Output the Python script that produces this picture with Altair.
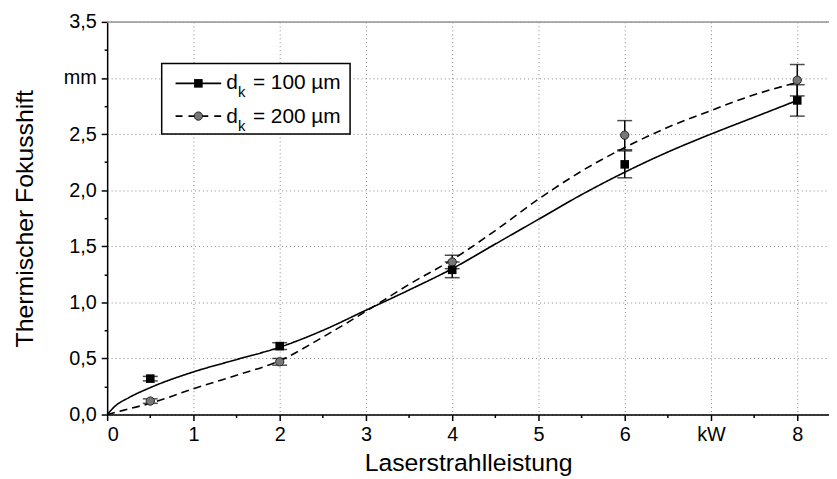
import altair as alt
import pandas as pd

# ---- data ----
x_pts = [0.5, 2, 4, 6, 8]
y100 = [0.32, 0.61, 1.29, 2.23, 2.80]
e100 = [0.02, 0.03, 0.07, 0.12, 0.14]
y200 = [0.12, 0.47, 1.36, 2.49, 2.98]
e200 = [0.02, 0.03, 0.06, 0.13, 0.14]

fit_x = [0, 0.1, 0.25, 0.5, 1, 1.5, 2, 2.5, 3, 3.5, 4, 4.5, 5, 5.5, 6, 6.5, 7, 7.5, 8]
fit100 = [0, 0.08, 0.15, 0.24, 0.38, 0.49, 0.60, 0.75, 0.93, 1.11, 1.30, 1.52, 1.74, 1.96, 2.16, 2.34, 2.50, 2.65, 2.80]
fit200 = [0, 0.02, 0.05, 0.10, 0.23, 0.35, 0.48, 0.69, 0.92, 1.16, 1.38, 1.64, 1.92, 2.17, 2.38, 2.56, 2.71, 2.85, 2.96]

x_major = [0, 1, 2, 3, 4, 5, 6, 7, 8]
x_minor = [0.5, 1.5, 2.5, 3.5, 4.5, 5.5, 6.5, 7.5]
y_major = [0, 0.5, 1.0, 1.5, 2.0, 2.5, 3.0, 3.5]
y_minor = [0.25, 0.75, 1.25, 1.75, 2.25, 2.75, 3.25]

FONT = "Liberation Sans"
W, H = 728, 396
XMAX = 8.368

pts = pd.DataFrame({
    "x": x_pts * 2,
    "y": y100 + y200,
    "lo": [v - e for v, e in zip(y100, e100)] + [v - e for v, e in zip(y200, e200)],
    "hi": [v + e for v, e in zip(y100, e100)] + [v + e for v, e in zip(y200, e200)],
    "s": ["100"] * 5 + ["200"] * 5,
})
fit = pd.DataFrame({
    "x": fit_x * 2,
    "y": fit100 + fit200,
    "s": ["100"] * len(fit_x) + ["200"] * len(fit_x),
})

xs = alt.Scale(domain=[0, XMAX], nice=False, zero=False)
ys = alt.Scale(domain=[0, 3.5], nice=False, zero=False)

x_axis = alt.Axis(values=x_major, tickSize=6, tickWidth=1.5, tickColor="black",
                  domainColor="black", domainWidth=1.5,
                  labelFontSize=20, labelFont=FONT, labelColor="black", labelPadding=4,
                  labelExpr="datum.value == 7 ? 'kW' : datum.label",
                  title="Laserstrahlleistung", titleFont=FONT, titleFontSize=25,
                  titleFontWeight="normal", titleColor="black", titlePadding=6,
                  grid=True, gridDash=[1, 3], gridColor="#888", gridWidth=1, orient="bottom")
y_axis = alt.Axis(values=y_major, tickSize=6, tickWidth=1.5, tickColor="black",
                  domainColor="black", domainWidth=1.5,
                  labelFontSize=20, labelFont=FONT, labelColor="black", labelPadding=5,
                  labelExpr="datum.value == 3 ? 'mm' : replace(format(datum.value, '.1f'), '.', ',')",
                  title="Thermischer Fokusshift", titleFont=FONT, titleFontSize=25,
                  titleFontWeight="normal", titleColor="black", titlePadding=26,
                  grid=True, gridDash=[1, 3], gridColor="#888", gridWidth=1, orient="left")

color = alt.Color("s:N", scale=alt.Scale(domain=["100", "200"], range=["black", "black"]), legend=None)
dash = alt.StrokeDash("s:N", scale=alt.Scale(domain=["100", "200"], range=[[1, 0], [8, 5]]), legend=None)

curves = alt.Chart(fit).mark_line(interpolate="monotone", strokeWidth=1.6).encode(
    x=alt.X("x:Q", scale=xs, axis=x_axis),
    y=alt.Y("y:Q", scale=ys, axis=y_axis),
    detail="s:N", color=color, strokeDash=dash,
)

minor = alt.Chart(pd.DataFrame({"x": [0.0], "y": [0.0]})).mark_point(opacity=0).encode(
    x=alt.X("x:Q", scale=xs, axis=alt.Axis(values=x_minor, tickSize=3, tickWidth=1.5, tickColor="black",
                                           labels=False, domain=False, grid=False, title=None, orient="bottom")),
    y=alt.Y("y:Q", scale=ys, axis=alt.Axis(values=y_minor, tickSize=3, tickWidth=1.5, tickColor="black",
                                           labels=False, domain=False, grid=False, title=None, orient="left")),
)

err = alt.Chart(pts).mark_rule(color="black", strokeWidth=1.5).encode(
    x=alt.X("x:Q", scale=xs, axis=None),
    y=alt.Y("lo:Q", scale=ys, axis=None),
    y2="hi:Q",
)
cap_lo = alt.Chart(pts).mark_tick(orient="horizontal", size=15, thickness=1.5, color="black").encode(
    x=alt.X("x:Q", scale=xs, axis=None), y=alt.Y("lo:Q", scale=ys, axis=None))
cap_hi = alt.Chart(pts).mark_tick(orient="horizontal", size=15, thickness=1.5, color="black").encode(
    x=alt.X("x:Q", scale=xs, axis=None), y=alt.Y("hi:Q", scale=ys, axis=None))

sq = alt.Chart(pts[pts.s == "100"]).mark_point(shape="square", filled=True, size=75, color="black", opacity=1).encode(
    x=alt.X("x:Q", scale=xs, axis=None), y=alt.Y("y:Q", scale=ys, axis=None))
ci = alt.Chart(pts[pts.s == "200"]).mark_point(shape="circle", filled=True, size=70, fill="#777", stroke="#222",
                                               strokeWidth=1, opacity=1).encode(
    x=alt.X("x:Q", scale=xs, axis=None), y=alt.Y("y:Q", scale=ys, axis=None))

top = alt.Chart(pd.DataFrame({"a": [0]})).mark_rule(color="#999", strokeWidth=1.5).encode(
    x=alt.value(0), x2=alt.value(W), y=alt.value(0))

one = pd.DataFrame({"a": [0]})
leg_box = alt.Chart(one).mark_rect(fill="white", stroke="black", strokeWidth=1.5).encode(
    x=alt.value(55), x2=alt.value(245), y=alt.value(42), y2=alt.value(113))
leg_l1 = alt.Chart(one).mark_rule(color="black", strokeWidth=1.6).encode(
    x=alt.value(69), x2=alt.value(115), y=alt.value(62))
leg_l2 = alt.Chart(one).mark_rule(color="black", strokeWidth=1.6, strokeDash=[7, 6]).encode(
    x=alt.value(69), x2=alt.value(115), y=alt.value(95))
leg_m1 = alt.Chart(one).mark_point(shape="square", filled=True, size=75, color="black", opacity=1).encode(
    x=alt.value(92), y=alt.value(62))
leg_m2 = alt.Chart(one).mark_point(shape="circle", filled=True, size=70, fill="#777", stroke="#222",
                                   strokeWidth=1, opacity=1).encode(x=alt.value(92), y=alt.value(95))


def txt(s, x, y, size):
    return alt.Chart(one).mark_text(text=s, align="left", baseline="alphabetic", font=FONT,
                                    fontSize=size, color="black").encode(x=alt.value(x), y=alt.value(y))


leg_txt = [
    txt("d", 120, 68, 21), txt("k", 132, 76, 15), txt("= 100 µm", 147, 68, 21),
    txt("d", 120, 102, 21), txt("k", 132, 110, 15), txt("= 200 µm", 147, 102, 21),
]

chart = alt.layer(
    curves, minor, top, err, cap_lo, cap_hi, ci, sq,
    leg_box, leg_l1, leg_l2, leg_m1, leg_m2, *leg_txt
).resolve_axis(x="independent", y="independent").properties(
    width=W, height=H,
    autosize=alt.AutoSizeParams(type="none"),
    padding={"left": 100, "top": 12, "right": 0, "bottom": 62},
).configure_view(stroke=None).configure(background="white")

chart.save("out.html", embed_options={"renderer": "svg", "actions": False})
